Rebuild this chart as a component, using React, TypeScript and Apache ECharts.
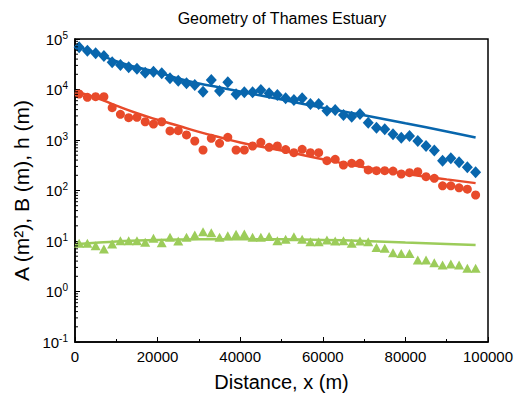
import React, { useEffect, useRef } from "react";
import * as echarts from "echarts";

const distances = [
  1000, 3000, 5000, 7000, 9000, 11000, 13000, 15000, 17000, 19000,
  21000, 23000, 25000, 27000, 29000, 31000, 33000, 35000, 37000, 39000,
  41000, 43000, 45000, 47000, 49000, 51000, 53000, 55000, 57000, 59000,
  61000, 63000, 65000, 67000, 69000, 71000, 73000, 75000, 77000, 79000,
  81000, 83000, 85000, 87000, 89000, 91000, 93000, 95000, 97000,
];

const areaA = [
  68500, 58600, 52300, 46000, 34600, 30600, 27500, 25700, 21500, 22500,
  20900, 16700, 14900, 13300, 12300, 9040, 15400, 9330, 13900, 8040,
  8810, 8810, 9770, 8410, 7780, 6700, 6200, 6700, 5160, 5160,
  3800, 3930, 3120, 2900, 3270, 2200, 1750, 1630, 1300, 1110,
  1200, 955, 765, 620, 389, 434, 361, 288, 229,
];

const widthB = [
  8150, 7000, 7200, 7200, 4360, 3230, 2770, 2810, 2300, 2070,
  2300, 1510, 1530, 1260, 955, 634, 1080, 861, 1130, 634,
  634, 760, 900, 716, 760, 645, 561, 655, 561, 561,
  389, 415, 320, 346, 346, 255, 247, 247, 243, 212,
  225, 236, 188, 174, 124, 124, 113, 106, 81.5,
];

const depthH = [
  9.0, 9.0, 8.07, 6.95, 8.73, 10.1, 10.1, 10.1, 9.42, 11.3,
  9.25, 11.8, 10.0, 11.8, 13.2, 15.3, 14.6, 11.8, 12.7, 13.6,
  13.8, 11.8, 11.8, 12.3, 10.1, 10.8, 12.2, 10.8, 9.7, 9.7,
  10.5, 10.0, 10.1, 9.0, 10.0, 9.7, 7.4, 7.16, 5.86, 5.68,
  5.68, 4.2, 4.2, 3.72, 3.35, 3.51, 3.35, 2.88, 2.88,
];

const fitX = [0, 5000, 10000, 15000, 20000, 25000, 30000, 35000, 40000, 50000, 60000, 70000, 80000, 90000, 97000];
const fitA = [74100, 52500, 36300, 27500, 21900, 16600, 13200, 11000, 9120, 6310, 4370, 3090, 2140, 1480, 1120];
const fitB = [9120, 6920, 4790, 3390, 2510, 1910, 1450, 1130, 891, 617, 417, 288, 214, 166, 140];
const fitH = [8.6, 9.2, 9.8, 10.2, 10.5, 10.7, 10.8, 10.85, 10.9, 10.8, 10.5, 10.0, 9.3, 8.7, 8.3];

const minorMultipliers = [2, 3, 4, 5, 6, 7, 8, 9];
const minorDecades = [0.1, 1, 10, 100, 1000, 10000];

const BLUE = "#0866AD";
const RED = "#E84A2A";
const GREEN = "#9CCC5A";
const FONT = "Liberation Sans, Arial, sans-serif";

export default function App() {
  const ref = useRef<HTMLDivElement>(null);

  useEffect(() => {
    if (!ref.current) return;
    const chart = echarts.init(ref.current, undefined, { renderer: "svg" });

    const pairs = (xs: number[], ys: number[]) => xs.map((x, i) => [x, ys[i]]);
    const minorTicks: number[][] = [];
    minorDecades.forEach((d) =>
      minorMultipliers.forEach((m) => minorTicks.push([0, +(m * d).toPrecision(6)]))
    );

    chart.setOption({
      animation: false,
      textStyle: { fontFamily: FONT },
      grid: {
        left: 75,
        right: 30,
        top: 39,
        bottom: 58,
        show: true,
        borderColor: "#000",
        borderWidth: 1.5,
        backgroundColor: "transparent",
      },
      graphic: [
        {
          type: "text",
          x: 282,
          y: 18,
          style: {
            text: "Geometry of Thames Estuary",
            font: `16px ${FONT}`,
            fill: "#000",
            textAlign: "center",
            textVerticalAlign: "middle",
          },
        },
      ],
      xAxis: {
        type: "value",
        min: 0,
        max: 100000,
        interval: 20000,
        name: "Distance, x (m)",
        nameLocation: "middle",
        nameGap: 30,
        nameTextStyle: { fontSize: 20, color: "#000", fontFamily: FONT },
        axisLine: { show: true, lineStyle: { color: "#000", width: 1.5 } },
        axisTick: { show: true, inside: true, length: 5, lineStyle: { color: "#000", width: 1 } },
        minorTick: { show: true, splitNumber: 2, length: 3, lineStyle: { color: "#000", width: 1 } },
        splitLine: { show: false },
        axisLabel: {
          fontSize: 15,
          color: "#000",
          margin: 7,
          fontFamily: FONT,
          formatter: (v: number) => String(v),
        },
      },
      yAxis: {
        type: "log",
        logBase: 10,
        min: 0.1,
        max: 100000,
        splitNumber: 6,
        name: "A (m²), B (m), h (m)",
        nameLocation: "middle",
        nameGap: 40,
        nameTextStyle: { fontSize: 21, color: "#000", fontFamily: FONT },
        axisLine: { show: true, lineStyle: { color: "#000", width: 1.5 } },
        axisTick: { show: true, inside: true, length: 5, lineStyle: { color: "#000", width: 1 } },
        splitLine: { show: false },
        axisLabel: {
          color: "#000",
          margin: 7,
          fontFamily: FONT,
          formatter: (v: number) => {
            const e = Math.round(Math.log10(v));
            return `{b|10}{s|${e}}`;
          },
          rich: {
            b: { fontSize: 15, color: "#000", fontFamily: FONT },
            s: { fontSize: 10, color: "#000", fontFamily: FONT, padding: [0, 0, 8, 0] },
          },
        },
      },
      series: [
        {
          type: "custom",
          silent: true,
          clip: false,
          data: minorTicks,
          renderItem: (params: any, api: any) => {
            const p = api.coord([api.value(0), api.value(1)]);
            return {
              type: "line",
              shape: { x1: p[0], y1: p[1], x2: p[0] + 3, y2: p[1] },
              style: { stroke: "#000", lineWidth: 1 },
            };
          },
          z: 5,
        },
        {
          type: "line",
          data: pairs(fitX, fitA),
          smooth: true,
          showSymbol: false,
          lineStyle: { color: BLUE, width: 2.5 },
          itemStyle: { color: BLUE },
          z: 2,
        },
        {
          type: "line",
          data: pairs(fitX, fitB),
          smooth: true,
          showSymbol: false,
          lineStyle: { color: RED, width: 2.5 },
          itemStyle: { color: RED },
          z: 2,
        },
        {
          type: "line",
          data: pairs(fitX, fitH),
          smooth: true,
          showSymbol: false,
          lineStyle: { color: GREEN, width: 2.5 },
          itemStyle: { color: GREEN },
          z: 2,
        },
        {
          type: "scatter",
          data: pairs(distances, areaA),
          symbol: "diamond",
          symbolSize: [11, 12],
          itemStyle: { color: BLUE, opacity: 1 },
          z: 3,
        },
        {
          type: "scatter",
          data: pairs(distances, widthB),
          symbol: "circle",
          symbolSize: 9,
          itemStyle: { color: RED, opacity: 1 },
          z: 3,
        },
        {
          type: "scatter",
          data: pairs(distances, depthH),
          symbol: "triangle",
          symbolSize: [10, 9],
          itemStyle: { color: GREEN, opacity: 1 },
          z: 3,
        },
      ],
    });

    return () => chart.dispose();
  }, []);

  return (
    <div
      ref={ref}
      style={{ position: "fixed", left: 0, top: 0, width: 518, height: 400, background: "#fff" }}
    />
  );
}
